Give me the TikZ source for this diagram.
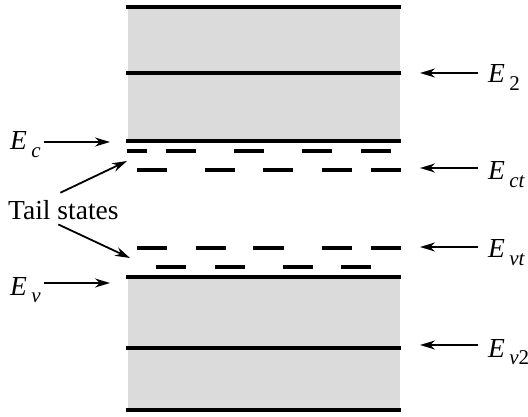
\documentclass[tikz,border=0pt]{standalone}
\usepackage{fontspec}
\setmainfont{Liberation Serif}
\usetikzlibrary{arrows.meta}
\newcommand\Elab[1]{\textit{E}\hspace{0.16em}\raisebox{-0.28em}{\fontsize{21}{23}\selectfont #1}}
\begin{document}
\begin{tikzpicture}[x=1pt,y=-1pt,
  band/.style={fill=black!14, draw=none},
  level/.style={line width=4pt},
  tail/.style={line width=3.6pt},
  ptr/.style={line width=1.8pt,-{Stealth[length=15pt,width=9pt]}},
  lab/.style={font=\fontsize{27.5}{30}\selectfont, anchor=base west, inner sep=0pt}]
\useasboundingbox (0,0) rectangle (528,417);
% bands
\fill[band] (128,7) rectangle (400,141);
\fill[band] (128,277) rectangle (400,410);
% solid levels
\foreach \y/\n in {7/top,73/etwo,141/ec,277/ev,348/evtwo,410/bot}
  \draw[level] (126,\y) coordinate (\n L) -- (401,\y) coordinate (\n R);
% tail-state dashes
\foreach \a/\b in {127/147,166/196,234/264,302/332,361/391}
  \draw[tail] (\a,151) -- (\b,151);
\foreach \a/\b in {137/167,205/235,263/293,322/352,371/401}
  \draw[tail] (\a,170) -- (\b,170);
\foreach \a/\b in {137/167,196/226,253/284,322/352,371/401}
  \draw[tail] (\a,248) -- (\b,248);
\foreach \a/\b in {156/186,215/245,283/313,341/371}
  \draw[tail] (\a,267) -- (\b,267);
% labels
\node[lab] (Ec) at (10,150) {\Elab{\textit{c}}};
\node[lab] (Ev) at (10,295) {\Elab{\textit{v}}};
\node[lab] (tail) at (8,220) {Tail states};
\node[lab] (E2) at (488,83) {\Elab{2}};
\node[lab] (Ect) at (488,180) {\Elab{\textit{ct}}};
\node[lab] (Evt) at (488,258) {\Elab{\textit{vt}}};
\node[lab] (Ev2) at (488,357) {\Elab{\textit{v}2}};
% arrow tips
\coordinate (ecTip) at (110,142);
\coordinate (evTip) at (110,283);
\coordinate (t1Tip) at (127,161);
\coordinate (t2Tip) at (130,258);
\coordinate (e2Tip) at (420,73);
\coordinate (ectTip) at (420,168);
\coordinate (evtTip) at (420,247);
\coordinate (ev2Tip) at (420,345);
% arrows
\draw[ptr] ([xshift=3pt]Ec.east |- ecTip) -- (ecTip);
\draw[ptr] ([xshift=3pt]Ev.east |- evTip) -- (evTip);
\draw[ptr] ([shift={(-3,-8)}]tail.north) -- (t1Tip);
\draw[ptr] ([shift={(-5,4)}]tail.south) -- (t2Tip);
\draw[ptr] ([xshift=-10pt]E2.west |- e2Tip) -- (e2Tip);
\draw[ptr] ([xshift=-10pt]Ect.west |- ectTip) -- (ectTip);
\draw[ptr] ([xshift=-10pt]Evt.west |- evtTip) -- (evtTip);
\draw[ptr] ([xshift=-10pt]Ev2.west |- ev2Tip) -- (ev2Tip);
\end{tikzpicture}
\end{document}
